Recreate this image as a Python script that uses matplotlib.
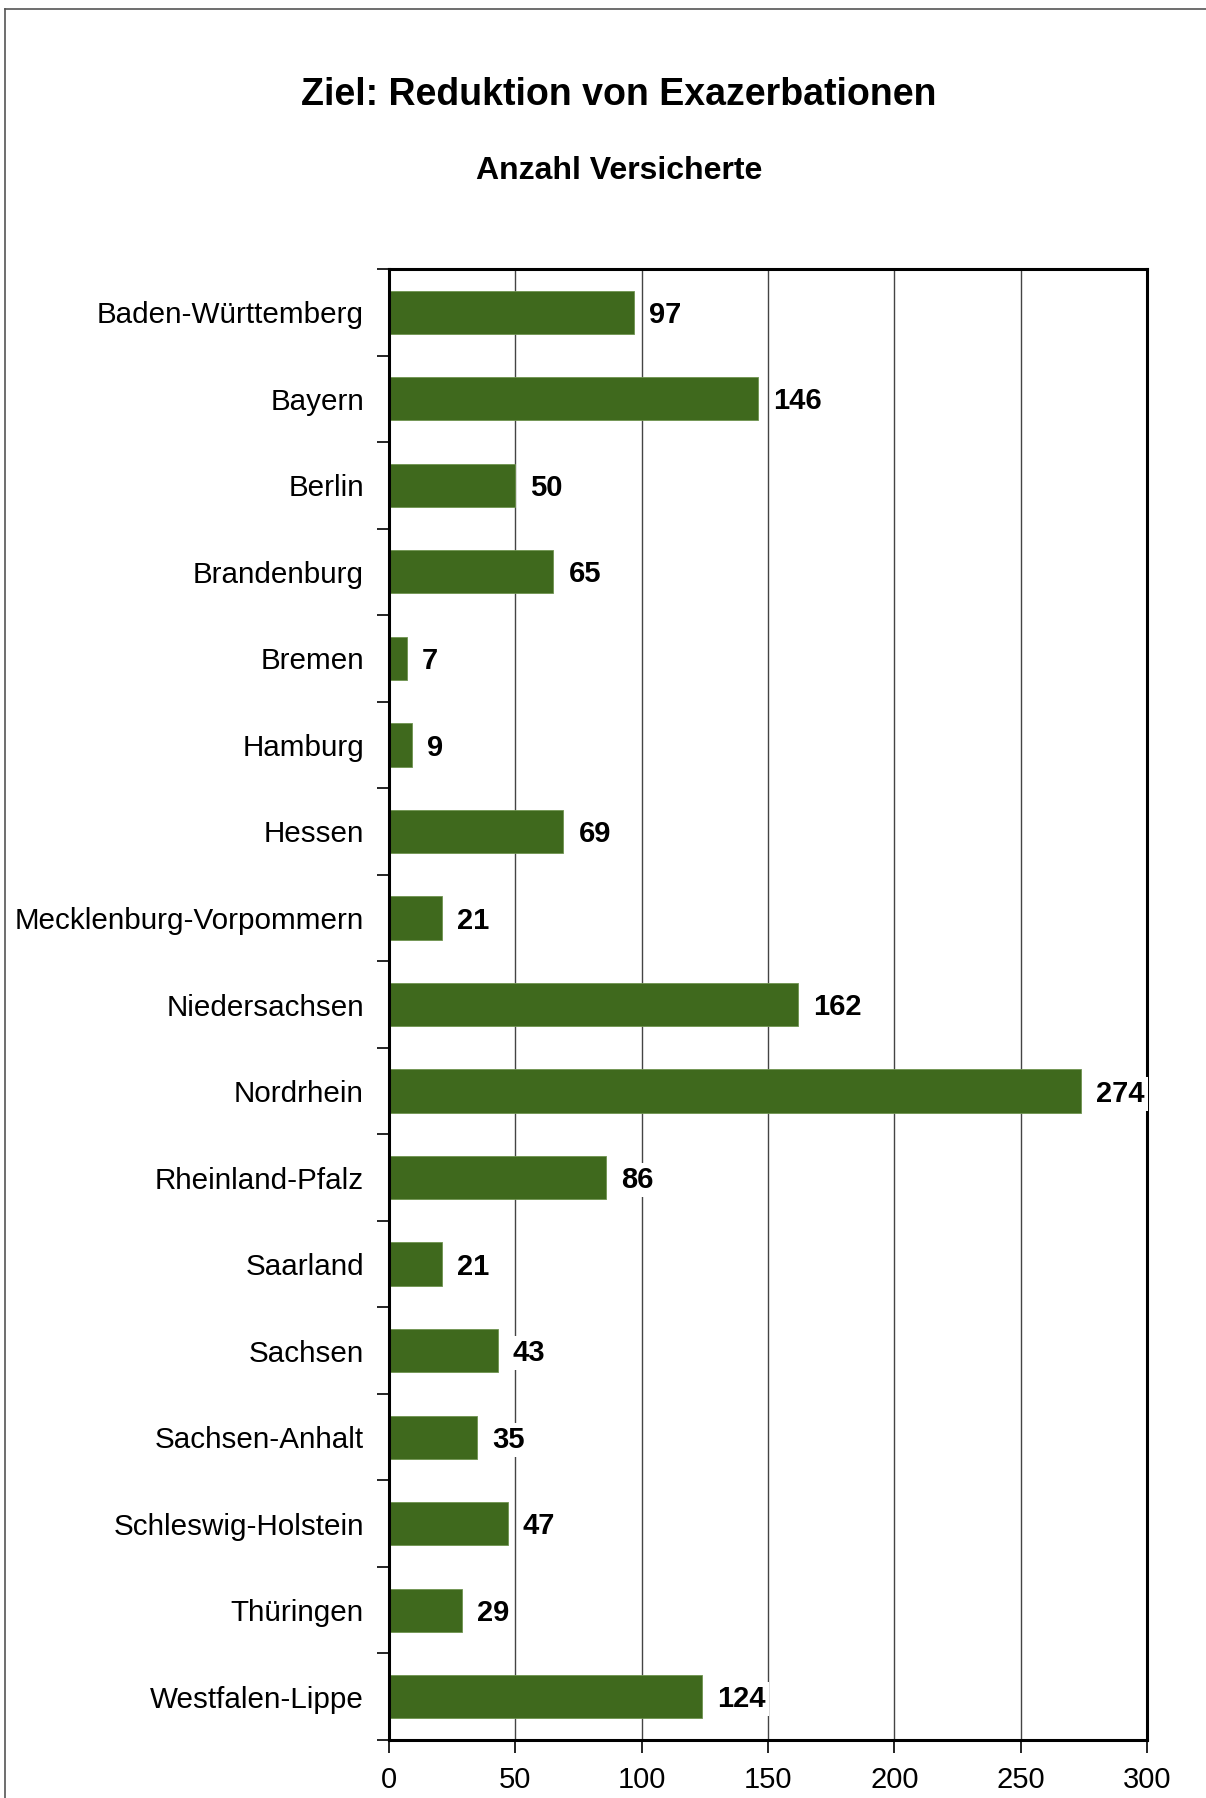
import numpy as np
import matplotlib
matplotlib.use("Agg")
import matplotlib.pyplot as plt
from matplotlib.lines import Line2D

plt.rcParams['font.family'] = ['Liberation Sans', 'DejaVu Sans']

# Daten
laender = ["Baden-Württemberg", "Bayern", "Berlin", "Brandenburg", "Bremen",
           "Hamburg", "Hessen", "Mecklenburg-Vorpommern", "Niedersachsen",
           "Nordrhein", "Rheinland-Pfalz", "Saarland", "Sachsen",
           "Sachsen-Anhalt", "Schleswig-Holstein", "Thüringen", "Westfalen-Lippe"]
anzahl = [97, 146, 50, 65, 7, 9, 69, 21, 162, 274, 86, 21, 43, 35, 47, 29, 124]
xticks = [0, 50, 100, 150, 200, 250, 300]

fig = plt.figure(figsize=(12.06, 17.98), dpi=100)
ax = fig.add_axes([389/1206, 1 - 1740/1798, (1147-389)/1206, (1740-269)/1798])

y = np.arange(len(laender))
ax.barh(y, anzahl, height=0.5, color='#3f691d', edgecolor='#6f9350', linewidth=0.6, zorder=2)

for yi, v in zip(y, anzahl):
    ax.text(v + 6, yi + 0.03, str(v), ha='left', va='center', fontsize=21, fontweight='bold',
            bbox=dict(facecolor='white', edgecolor='none', pad=2), zorder=3)

ax.set_xlim(0, 300)
ax.set_ylim(len(laender) - 0.5, -0.5)
ax.set_xticks(xticks)
ax.set_xticklabels([str(t) for t in xticks], fontsize=21)
ax.set_yticks(y)
ax.set_yticklabels(laender, fontsize=21.3)
ax.tick_params(axis='y', which='major', length=0, pad=18)
ax.set_yticks(np.arange(-0.5, len(laender)), minor=True)
ax.tick_params(axis='y', which='minor', length=9, width=1.2, direction='out')
ax.tick_params(axis='x', length=9, width=1.2, direction='out', pad=10)
ax.xaxis.grid(True, color='#444444', linewidth=1.0, zorder=0)
ax.set_axisbelow(True)
for s in ax.spines.values():
    s.set_linewidth(2.2)
    s.set_color('black')

fig.text(619/1206, 1 - 95/1798, "Ziel: Reduktion von Exazerbationen", ha='center', va='center',
         fontsize=27, fontweight='bold')
fig.text(619/1206, 1 - 171/1798, "Anzahl Versicherte", ha='center', va='center',
         fontsize=23, fontweight='bold')

# Rahmen
fig.add_artist(Line2D([0.004, 1], [1 - 9/1798, 1 - 9/1798], color='#555555', linewidth=1.2))
fig.add_artist(Line2D([0.004, 0.004], [0, 1 - 9/1798], color='#555555', linewidth=1.2))

fig.savefig("out.png", dpi=100)
